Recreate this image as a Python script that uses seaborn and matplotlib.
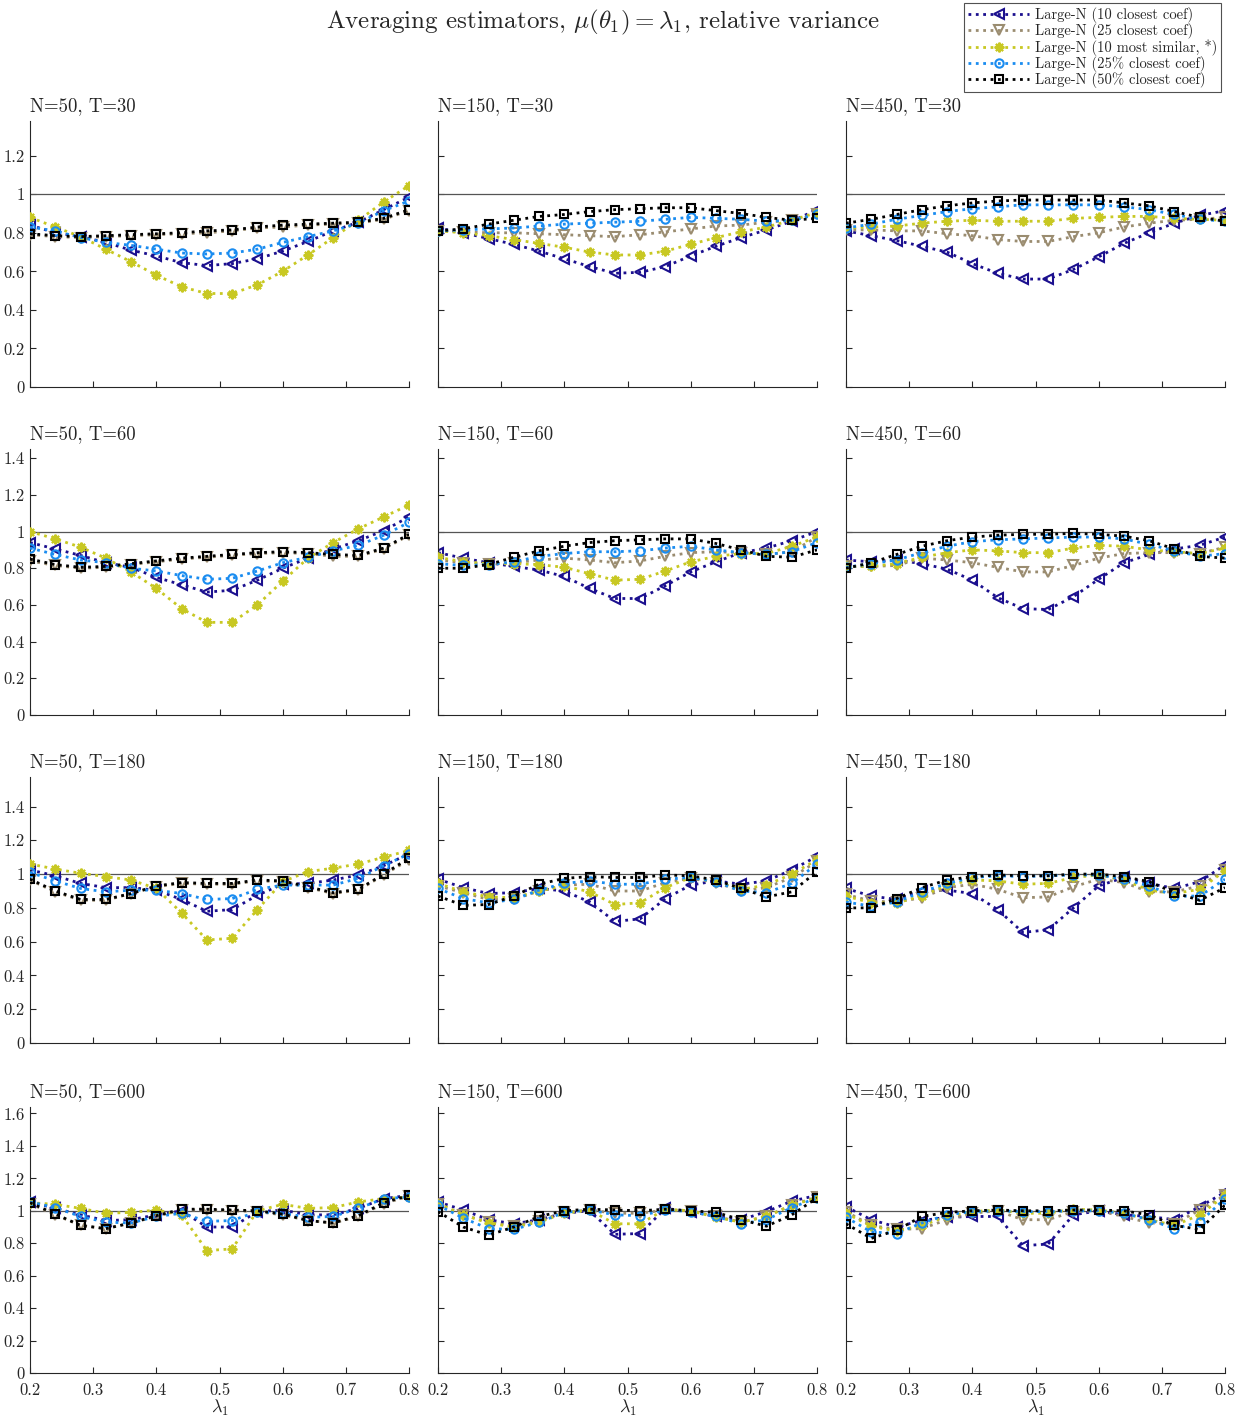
import numpy as np
import matplotlib
matplotlib.use('Agg')
import matplotlib.pyplot as plt
from matplotlib.ticker import FuncFormatter
import seaborn as sns

lam = [0.20, 0.24, 0.28, 0.32, 0.36, 0.40, 0.44, 0.48,
       0.52, 0.56, 0.60, 0.64, 0.68, 0.72, 0.76, 0.80]

# N=50, T=30
n50_t30_c10 = [0.84, 0.80, 0.78, 0.75, 0.71, 0.68, 0.645, 0.63, 0.64, 0.665, 0.705, 0.755, 0.81, 0.855, 0.92, 0.985]
n50_t30_c25 = [0.79, 0.78, 0.775, 0.78, 0.785, 0.79, 0.795, 0.80, 0.81, 0.825, 0.83, 0.84, 0.845, 0.85, 0.87, 0.915]
n50_t30_s10 = [0.88, 0.83, 0.78, 0.715, 0.65, 0.58, 0.52, 0.485, 0.485, 0.53, 0.60, 0.685, 0.775, 0.865, 0.96, 1.045]
n50_t30_p25 = [0.83, 0.81, 0.775, 0.75, 0.735, 0.715, 0.695, 0.69, 0.695, 0.715, 0.75, 0.78, 0.81, 0.85, 0.915, 0.965]
n50_t30_p50 = [0.795, 0.785, 0.78, 0.785, 0.79, 0.795, 0.80, 0.81, 0.815, 0.83, 0.84, 0.845, 0.85, 0.855, 0.875, 0.92]

# N=150, T=30
n150_t30_c10 = [0.825, 0.80, 0.77, 0.74, 0.705, 0.665, 0.625, 0.59, 0.595, 0.625, 0.68, 0.73, 0.775, 0.815, 0.86, 0.92]
n150_t30_c25 = [0.81, 0.805, 0.80, 0.80, 0.795, 0.79, 0.785, 0.78, 0.79, 0.805, 0.82, 0.835, 0.84, 0.855, 0.865, 0.895]
n150_t30_s10 = [0.81, 0.80, 0.785, 0.765, 0.745, 0.725, 0.70, 0.685, 0.685, 0.705, 0.74, 0.775, 0.805, 0.83, 0.865, 0.905]
n150_t30_p25 = [0.81, 0.815, 0.82, 0.825, 0.835, 0.845, 0.85, 0.855, 0.86, 0.87, 0.88, 0.875, 0.87, 0.86, 0.865, 0.895]
n150_t30_p50 = [0.81, 0.82, 0.845, 0.865, 0.885, 0.895, 0.91, 0.92, 0.925, 0.93, 0.93, 0.915, 0.90, 0.88, 0.865, 0.875]

# N=450, T=30
n450_t30_c10 = [0.81, 0.785, 0.76, 0.73, 0.70, 0.64, 0.59, 0.56, 0.56, 0.61, 0.675, 0.745, 0.80, 0.85, 0.89, 0.915]
n450_t30_c25 = [0.815, 0.815, 0.81, 0.81, 0.795, 0.785, 0.765, 0.755, 0.755, 0.78, 0.80, 0.83, 0.85, 0.865, 0.87, 0.88]
n450_t30_s10 = [0.825, 0.83, 0.835, 0.85, 0.86, 0.865, 0.86, 0.86, 0.86, 0.875, 0.88, 0.885, 0.885, 0.875, 0.87, 0.865]
n450_t30_p25 = [0.825, 0.845, 0.87, 0.89, 0.91, 0.925, 0.935, 0.945, 0.945, 0.945, 0.945, 0.935, 0.92, 0.895, 0.87, 0.86]
n450_t30_p50 = [0.85, 0.87, 0.895, 0.92, 0.94, 0.955, 0.965, 0.97, 0.97, 0.97, 0.97, 0.955, 0.94, 0.91, 0.88, 0.86]

# N=50, T=60
n50_t60_c10 = [0.94, 0.905, 0.87, 0.83, 0.805, 0.75, 0.71, 0.67, 0.68, 0.735, 0.80, 0.855, 0.905, 0.95, 1.005, 1.08]
n50_t60_c25 = [0.84, 0.815, 0.80, 0.805, 0.82, 0.835, 0.85, 0.86, 0.87, 0.88, 0.885, 0.88, 0.865, 0.865, 0.905, 0.98]
n50_t60_s10 = [1.0, 0.96, 0.915, 0.855, 0.78, 0.69, 0.58, 0.505, 0.505, 0.60, 0.73, 0.855, 0.94, 1.015, 1.08, 1.145]
n50_t60_p25 = [0.91, 0.875, 0.845, 0.83, 0.80, 0.785, 0.76, 0.74, 0.745, 0.785, 0.83, 0.86, 0.895, 0.925, 0.98, 1.05]
n50_t60_p50 = [0.85, 0.82, 0.805, 0.81, 0.825, 0.84, 0.855, 0.865, 0.875, 0.885, 0.89, 0.885, 0.875, 0.87, 0.91, 0.985]

# N=150, T=60
n150_t60_c10 = [0.885, 0.855, 0.83, 0.81, 0.79, 0.755, 0.69, 0.635, 0.635, 0.705, 0.78, 0.835, 0.885, 0.91, 0.95, 1.0]
n150_t60_c25 = [0.845, 0.83, 0.825, 0.83, 0.845, 0.855, 0.845, 0.83, 0.84, 0.865, 0.885, 0.89, 0.885, 0.875, 0.89, 0.97]
n150_t60_s10 = [0.86, 0.835, 0.825, 0.825, 0.82, 0.805, 0.77, 0.735, 0.74, 0.785, 0.835, 0.865, 0.88, 0.88, 0.92, 0.97]
n150_t60_p25 = [0.825, 0.815, 0.82, 0.835, 0.865, 0.88, 0.89, 0.89, 0.895, 0.91, 0.92, 0.90, 0.885, 0.875, 0.89, 0.94]
n150_t60_p50 = [0.80, 0.80, 0.82, 0.86, 0.895, 0.92, 0.94, 0.95, 0.955, 0.96, 0.96, 0.935, 0.90, 0.865, 0.86, 0.90]

# N=450, T=60
n450_t60_c10 = [0.845, 0.835, 0.845, 0.825, 0.795, 0.735, 0.64, 0.58, 0.575, 0.645, 0.74, 0.83, 0.875, 0.905, 0.925, 0.97]
n450_t60_c25 = [0.81, 0.81, 0.815, 0.855, 0.845, 0.83, 0.805, 0.78, 0.78, 0.815, 0.855, 0.88, 0.885, 0.885, 0.88, 0.915]
n450_t60_s10 = [0.81, 0.81, 0.825, 0.86, 0.885, 0.90, 0.895, 0.885, 0.885, 0.91, 0.925, 0.92, 0.90, 0.89, 0.88, 0.91]
n450_t60_p25 = [0.805, 0.825, 0.845, 0.885, 0.92, 0.945, 0.955, 0.96, 0.965, 0.97, 0.97, 0.96, 0.93, 0.895, 0.865, 0.88]
n450_t60_p50 = [0.80, 0.83, 0.875, 0.92, 0.95, 0.97, 0.98, 0.985, 0.985, 0.99, 0.985, 0.975, 0.95, 0.905, 0.865, 0.855]

# N=50, T=180
n50_t180_c10 = [1.025, 0.99, 0.945, 0.92, 0.92, 0.905, 0.85, 0.78, 0.79, 0.875, 0.94, 0.945, 0.965, 0.995, 1.05, 1.12]
n50_t180_c25 = [0.965, 0.895, 0.845, 0.845, 0.885, 0.925, 0.945, 0.94, 0.94, 0.96, 0.955, 0.92, 0.885, 0.905, 0.995, 1.085]
n50_t180_s10 = [1.06, 1.03, 1.005, 0.985, 0.965, 0.915, 0.77, 0.61, 0.62, 0.79, 0.955, 1.015, 1.035, 1.06, 1.10, 1.14]
n50_t180_p25 = [1.01, 0.96, 0.915, 0.895, 0.905, 0.905, 0.885, 0.85, 0.855, 0.91, 0.935, 0.935, 0.935, 0.975, 1.05, 1.12]
n50_t180_p50 = [0.97, 0.90, 0.85, 0.85, 0.885, 0.93, 0.95, 0.945, 0.945, 0.965, 0.96, 0.925, 0.89, 0.91, 1.0, 1.095]

# N=150, T=180
n150_t180_c10 = [0.97, 0.92, 0.885, 0.89, 0.915, 0.90, 0.835, 0.72, 0.735, 0.855, 0.935, 0.96, 0.94, 0.96, 1.025, 1.105]
n150_t180_c25 = [0.93, 0.89, 0.85, 0.85, 0.90, 0.935, 0.94, 0.90, 0.90, 0.95, 0.975, 0.95, 0.90, 0.92, 0.98, 1.075]
n150_t180_s10 = [0.945, 0.895, 0.865, 0.86, 0.90, 0.93, 0.895, 0.82, 0.83, 0.92, 0.98, 0.955, 0.91, 0.935, 1.0, 1.085]
n150_t180_p25 = [0.915, 0.855, 0.83, 0.85, 0.905, 0.945, 0.96, 0.94, 0.94, 0.97, 0.98, 0.955, 0.90, 0.89, 0.945, 1.06]
n150_t180_p50 = [0.87, 0.815, 0.82, 0.87, 0.94, 0.975, 0.985, 0.98, 0.98, 0.995, 0.99, 0.965, 0.915, 0.865, 0.895, 1.015]

# N=450, T=180
n450_t180_c10 = [0.915, 0.87, 0.85, 0.90, 0.905, 0.885, 0.79, 0.655, 0.67, 0.80, 0.93, 0.98, 0.945, 0.915, 0.955, 1.055]
n450_t180_c25 = [0.88, 0.84, 0.835, 0.86, 0.92, 0.94, 0.91, 0.86, 0.865, 0.925, 0.97, 0.95, 0.895, 0.895, 0.93, 1.025]
n450_t180_s10 = [0.87, 0.83, 0.83, 0.87, 0.935, 0.965, 0.96, 0.94, 0.945, 0.98, 0.995, 0.965, 0.905, 0.885, 0.91, 1.02]
n450_t180_p25 = [0.835, 0.81, 0.835, 0.895, 0.945, 0.98, 0.99, 0.985, 0.99, 0.995, 0.995, 0.97, 0.93, 0.87, 0.87, 0.97]
n450_t180_p50 = [0.80, 0.80, 0.855, 0.92, 0.965, 0.985, 0.995, 0.99, 0.99, 1.0, 1.0, 0.985, 0.955, 0.89, 0.845, 0.92]

# N=50, T=600
n50_t600_c10 = [1.055, 1.015, 0.975, 0.94, 0.945, 0.975, 1.0, 0.90, 0.90, 0.995, 1.005, 0.975, 0.975, 1.015, 1.075, 1.095]
n50_t600_c25 = [1.045, 0.975, 0.91, 0.89, 0.925, 0.965, 1.005, 1.005, 1.0, 0.995, 0.975, 0.94, 0.925, 0.965, 1.045, 1.09]
n50_t600_s10 = [1.05, 1.04, 1.015, 0.985, 0.99, 1.005, 0.975, 0.755, 0.765, 1.0, 1.04, 1.015, 1.02, 1.055, 1.075, 1.085]
n50_t600_p25 = [1.055, 1.02, 0.965, 0.93, 0.925, 0.965, 0.985, 0.935, 0.94, 0.995, 0.985, 0.96, 0.965, 1.015, 1.075, 1.085]
n50_t600_p50 = [1.05, 0.98, 0.91, 0.89, 0.925, 0.97, 1.01, 1.01, 1.005, 1.0, 0.98, 0.94, 0.925, 0.97, 1.05, 1.095]

# N=150, T=600
n150_t600_c10 = [1.055, 1.005, 0.945, 0.92, 0.945, 0.985, 1.0, 0.855, 0.86, 1.015, 0.995, 0.965, 0.945, 0.995, 1.06, 1.095]
n150_t600_c25 = [1.045, 0.975, 0.93, 0.905, 0.94, 0.99, 1.005, 0.985, 0.985, 1.005, 1.0, 0.965, 0.93, 0.965, 1.035, 1.085]
n150_t600_s10 = [1.045, 0.975, 0.925, 0.90, 0.93, 0.985, 1.005, 0.92, 0.92, 1.01, 1.0, 0.96, 0.93, 0.965, 1.035, 1.08]
n150_t600_p25 = [1.035, 0.955, 0.89, 0.885, 0.93, 0.99, 1.005, 0.975, 0.97, 1.005, 0.995, 0.965, 0.92, 0.945, 1.02, 1.08]
n150_t600_p50 = [0.995, 0.90, 0.85, 0.90, 0.965, 1.0, 1.01, 1.005, 1.0, 1.01, 1.0, 0.99, 0.945, 0.905, 0.975, 1.08]

# N=450, T=600
n450_t600_c10 = [1.025, 0.945, 0.90, 0.94, 0.96, 0.965, 0.965, 0.785, 0.795, 0.975, 1.0, 0.975, 0.965, 0.945, 1.025, 1.115]
n450_t600_c25 = [0.995, 0.91, 0.885, 0.89, 0.945, 0.985, 1.0, 0.945, 0.945, 0.995, 1.0, 0.965, 0.925, 0.92, 1.005, 1.095]
n450_t600_s10 = [0.985, 0.905, 0.875, 0.91, 0.965, 0.995, 1.005, 0.985, 0.985, 1.01, 1.005, 0.985, 0.945, 0.91, 0.975, 1.095]
n450_t600_p25 = [0.96, 0.87, 0.86, 0.925, 0.975, 0.995, 1.0, 0.995, 0.995, 1.0, 1.0, 0.985, 0.945, 0.89, 0.93, 1.075]
n450_t600_p50 = [0.92, 0.83, 0.88, 0.965, 0.99, 1.0, 1.005, 1.0, 1.0, 1.005, 1.005, 1.0, 0.975, 0.91, 0.885, 1.035]

n_values = [50, 150, 450]
t_values = [30, 60, 180, 600]
labels = ['Large-N (10 closest coef)', 'Large-N (25 closest coef)',
          'Large-N (10 most similar, *)', 'Large-N (25% closest coef)',
          'Large-N (50% closest coef)']
colors = ['#1b0f8e', '#9a8c70', '#c8c823', '#1a8cf0', '#000000']
markers = ['<', 'v', (8, 2, 0), 'o', 's']
msizes = [7.5, 7.5, 7, 6, 6]

series = {
    (30, 50): [n50_t30_c10, n50_t30_c25, n50_t30_s10, n50_t30_p25, n50_t30_p50],
    (30, 150): [n150_t30_c10, n150_t30_c25, n150_t30_s10, n150_t30_p25, n150_t30_p50],
    (30, 450): [n450_t30_c10, n450_t30_c25, n450_t30_s10, n450_t30_p25, n450_t30_p50],
    (60, 50): [n50_t60_c10, n50_t60_c25, n50_t60_s10, n50_t60_p25, n50_t60_p50],
    (60, 150): [n150_t60_c10, n150_t60_c25, n150_t60_s10, n150_t60_p25, n150_t60_p50],
    (60, 450): [n450_t60_c10, n450_t60_c25, n450_t60_s10, n450_t60_p25, n450_t60_p50],
    (180, 50): [n50_t180_c10, n50_t180_c25, n50_t180_s10, n50_t180_p25, n50_t180_p50],
    (180, 150): [n150_t180_c10, n150_t180_c25, n150_t180_s10, n150_t180_p25, n150_t180_p50],
    (180, 450): [n450_t180_c10, n450_t180_c25, n450_t180_s10, n450_t180_p25, n450_t180_p50],
    (600, 50): [n50_t600_c10, n50_t600_c25, n50_t600_s10, n50_t600_p25, n50_t600_p50],
    (600, 150): [n150_t600_c10, n150_t600_c25, n150_t600_s10, n150_t600_p25, n150_t600_p50],
    (600, 450): [n450_t600_c10, n450_t600_c25, n450_t600_s10, n450_t600_p25, n450_t600_p50],
}

row_ymax = [1.38, 1.45, 1.575, 1.64]
row_yticks = [[0, 0.2, 0.4, 0.6, 0.8, 1, 1.2],
              [0, 0.2, 0.4, 0.6, 0.8, 1, 1.2, 1.4],
              [0, 0.2, 0.4, 0.6, 0.8, 1, 1.2, 1.4],
              [0, 0.2, 0.4, 0.6, 0.8, 1, 1.2, 1.4, 1.6]]

sns.set_style('ticks')
plt.rcParams['font.family'] = ['cmr10', 'DejaVu Serif']
plt.rcParams['mathtext.fontset'] = 'cm'
plt.rcParams['axes.formatter.use_mathtext'] = True

W, H = 1247, 1416
fig = plt.figure(figsize=(W / 100, H / 100), dpi=100)

col_left = [30, 438, 846]
row_bottom = [387, 715, 1043, 1373]
ax_w, ax_h = 379, 266

fmt = FuncFormatter(lambda v, p: f'{v:g}')

for r, t in enumerate(t_values):
    for c, n in enumerate(n_values):
        ax = fig.add_axes([col_left[c] / W, 1 - row_bottom[r] / H, ax_w / W, ax_h / H])
        ax.axhline(1, color='#555555', lw=0.9, zorder=1)
        for k, vals in enumerate(series[(t, n)]):
            sns.lineplot(x=lam, y=vals, ax=ax, color=colors[k], linestyle=':',
                         linewidth=2.0, marker=markers[k], markersize=msizes[k],
                         markerfacecolor='none', markeredgecolor=colors[k],
                         markeredgewidth=1.5, label=labels[k], legend=False, zorder=2 + k)
        ax.set_xlim(0.2, 0.8)
        ax.set_ylim(0, row_ymax[r])
        ax.set_xticks([0.2, 0.3, 0.4, 0.5, 0.6, 0.7, 0.8])
        ax.set_yticks(row_yticks[r])
        ax.xaxis.set_major_formatter(fmt)
        ax.yaxis.set_major_formatter(fmt)
        ax.tick_params(direction='in', length=4, width=0.8, labelsize=12,
                       colors='#262626')
        ax.tick_params(axis='x', pad=7)
        ax.tick_params(axis='y', pad=4)
        for s in ['top', 'right']:
            ax.spines[s].set_visible(False)
        for s in ['left', 'bottom']:
            ax.spines[s].set_color('#262626')
            ax.spines[s].set_linewidth(0.8)
        if c > 0:
            ax.tick_params(labelleft=False)
        if r < 3:
            ax.tick_params(labelbottom=False)
            ax.set_xlabel('')
        else:
            ax.set_xlabel(r'$\lambda_1$', fontsize=13, labelpad=0)
        ax.set_ylabel('')
        ax.set_title(f'N={n}, T={t}', loc='left', fontsize=13.5, pad=7)
        if r == 0 and c == 0:
            handles, labs = ax.get_legend_handles_labels()

fig.text(603 / W, 1 - 22 / H,
         r'Averaging estimators, $\mu(\theta_1) = \lambda_1$, relative variance',
         ha='center', va='center', fontsize=18)

leg = fig.legend(handles, labs, loc='upper right', bbox_to_anchor=(1221 / W, 1 - 3 / H),
                 fontsize=10.5, frameon=True, fancybox=False, handlelength=4.2,
                 borderpad=0.25, labelspacing=0.02, handletextpad=0.4, borderaxespad=0)
leg.get_frame().set_edgecolor('#262626')
leg.get_frame().set_linewidth(0.8)

fig.savefig('out.png', dpi=100)
